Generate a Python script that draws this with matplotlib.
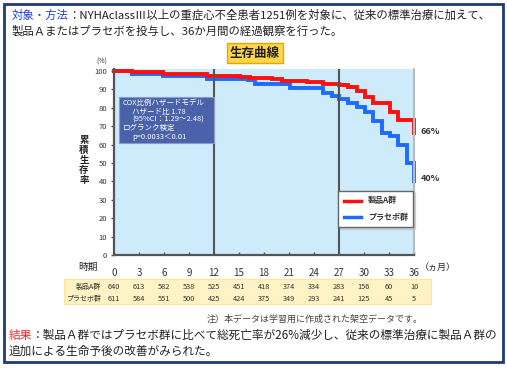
import matplotlib
matplotlib.use("Agg")
import matplotlib.pyplot as plt
import matplotlib.patches as mpatches
import matplotlib.transforms as mtrans
from matplotlib.lines import Line2D

plt.rcParams['font.family'] = ['Noto Sans CJK JP', 'DejaVu Sans']

# step curves (month, survival % after the step)
t_a = [0, 2.1, 5.9, 11.1, 15.1, 16.3, 18.9, 20.1, 23.1, 25.1, 27.0, 28.1, 29.1, 30.1, 31.1, 33.1, 34.1, 36]
s_a = [100, 99.2, 98.3, 97.3, 96.7, 96.2, 95.5, 94.6, 93.7, 93.0, 92.2, 91.3, 89.3, 86.0, 82.4, 77.9, 73.4, 66]
t_p = [0, 2.1, 5.9, 11.1, 16.1, 16.9, 21.1, 25.1, 26.1, 27.0, 28.1, 29.1, 30.1, 31.1, 32.1, 33.1, 34.1, 35.1, 36]
s_p = [100, 98.5, 97.2, 95.7, 94.9, 92.6, 90.9, 87.9, 86.6, 84.6, 82.4, 80.3, 77.5, 72.5, 66.5, 64.7, 59.8, 49.8, 40]

months = [0, 3, 6, 9, 12, 15, 18, 21, 24, 27, 30, 33, 36]
n_a = [640, 613, 582, 538, 525, 451, 418, 374, 334, 283, 156, 60, 10]
n_p = [611, 584, 551, 500, 425, 424, 375, 349, 293, 241, 125, 45, 5]
yticks = [0, 10, 20, 30, 40, 50, 60, 70, 80, 90, 100]

W, H = 507, 368
fig = plt.figure(figsize=(W / 100, H / 100), dpi=100)


def fx(x):
    return x / W


def fy(y):
    return 1 - y / H


# outer frame
fig.patches.append(mpatches.Rectangle((fx(4), fy(362)), fx(499), 358 / H, transform=fig.transFigure,
                                      fill=False, edgecolor='#1F3A7A', lw=2))

# header text
fig.text(fx(12), fy(15), '対象・方法', color='#1F3FE0', fontsize=8.2, va='center')
fig.text(fx(68), fy(15), '：NYHAclassⅢ以上の重症心不全患者1251例を対象に、従来の標準治療に加えて、',
         color='#222222', fontsize=8.2, va='center')
fig.text(fx(12), fy(31), '製品Ａまたはプラセボを投与し、36か月間の経過観察を行った。',
         color='#222222', fontsize=8.2, va='center')

# chart
ax = fig.add_axes([fx(114), fy(255), 300 / W, 186 / H])
ax.set_facecolor('#CDEBFB')
ax.step(t_p, s_p, where='post', color='#1F6BFF', lw=2.8, clip_on=False, solid_joinstyle='miter')
ax.step(t_a, s_a, where='post', color='#FF1010', lw=2.8, clip_on=False, solid_joinstyle='miter')
ax.axvline(12, color='#555555', lw=1.5)
ax.axvline(27, color='#555555', lw=1.5)
ax.set_xlim(0, 36)
ax.set_ylim(0, 101)
ax.set_xticks(months)
ax.set_xticklabels([str(m) for m in months], fontsize=7, color='#333333')
ax.set_yticks(yticks)
ax.set_yticklabels([str(v) for v in yticks], fontsize=5.5, color='#333333')
ax.tick_params(axis='x', direction='in', length=2, width=1, color='#555555', pad=9)
ax.tick_params(axis='y', direction='out', length=2, width=1, color='#555555', pad=3)
ax.spines['top'].set_visible(False)
ax.spines['left'].set_color('#555555')
ax.spines['left'].set_linewidth(1.6)
ax.spines['bottom'].set_color('#555555')
ax.spines['bottom'].set_linewidth(1.6)
ax.spines['right'].set_color('#BBBBBB')
ax.spines['right'].set_linewidth(1.5)

# end labels
ax.text(36.8, s_a[-1] + 1, '66%', fontsize=6.5, fontweight='bold', color='#333333', va='center')
ax.text(36.8, s_p[-1] + 1.5, '40%', fontsize=6.5, fontweight='bold', color='#333333', va='center')

# Cox box
ax.add_patch(mpatches.Rectangle((0.017, 0.602), 0.316, 0.247, transform=ax.transAxes,
                                facecolor='#4A62AA', edgecolor='#8A9AD0', lw=0.8, zorder=5))
cox_lines = [(123, 103, 'COX比例ハザードモデル'),
             (132, 112, 'ハザード比 1.78'),
             (132, 120, '(95%CI：1.29～2.48)'),
             (123, 128, 'ログランク検定'),
             (132, 137, 'p=0.0033＜0.01')]
for x, y, s in cox_lines:
    fig.text(fx(x), fy(y), s, color='white', fontsize=5.4, va='center', zorder=6)

# legend
handles = [Line2D([], [], color='#FF1010', lw=2.5), Line2D([], [], color='#1F6BFF', lw=2.5)]
leg = ax.legend(handles, ['製品A群', 'プラセボ群'], loc='center', bbox_to_anchor=(0.872, 0.247),
                fontsize=5.8, frameon=True, fancybox=False,
                shadow={'ox': 1.2, 'oy': -1.2, 'color': '#BBBBBB', 'alpha': 0.5}, edgecolor='#666666',
                handlelength=2.2, labelspacing=0.9, borderpad=0.7)
leg.get_frame().set_alpha(1)
for t in leg.get_texts():
    t.set_fontweight('bold')
    t.set_color('#333333')

# title badge
fig.text(fx(255), fy(53), '生存曲線', fontsize=9, fontweight='bold', color='#222222', ha='center', va='center',
         bbox=dict(boxstyle='square,pad=0.25', facecolor='#FFD54A', edgecolor='#E0A800', lw=1))

# axis texts
fig.text(fx(102), fy(62), '(%)', fontsize=5, color='#333333', ha='center', va='center')
fig.text(fx(84), fy(160), '\n'.join('累積生存率'), fontsize=6.8, fontweight='bold', color='#222222',
         ha='center', va='center', linespacing=1.0)
fig.text(fx(88), fy(267), '時期', fontsize=7, color='#222222', ha='center', va='center')
fig.text(fx(420), fy(267), '（ヵ月）', fontsize=6.5, color='#222222', ha='left', va='center')

# numbers at risk table
fig.patches.append(mpatches.Rectangle((fx(64), fy(304)), 367 / W, 25 / H, transform=fig.transFigure,
                                      facecolor='#FFF2C4', edgecolor='#FFE49A', lw=0.8))
tr = mtrans.blended_transform_factory(ax.transData, fig.transFigure)
fig.text(fx(101), fy(287), '製品A群', fontsize=5, color='#333333', ha='right', va='center')
fig.text(fx(101), fy(299), 'プラセボ群', fontsize=5, color='#333333', ha='right', va='center')
for m, a, p in zip(months, n_a, n_p):
    fig.text(m, fy(287), str(a), transform=tr, fontsize=5.3, color='#333333', ha='center', va='center')
    fig.text(m, fy(299), str(p), transform=tr, fontsize=5.3, color='#333333', ha='center', va='center')

fig.text(fx(207), fy(319), '注）本データは学習用に作成された架空データです。', fontsize=6.5, color='#444444', va='center')

# result
fig.text(fx(9), fy(335), '結果', color='#FF2020', fontsize=8.4, va='center')
fig.text(fx(31), fy(335), '：製品Ａ群ではプラセボ群に比べて総死亡率が26%減少し、従来の標準治療に製品Ａ群の',
         color='#222222', fontsize=8.4, va='center')
fig.text(fx(9), fy(351), '追加による生命予後の改善がみられた。', color='#222222', fontsize=8.4, va='center')

fig.savefig('out.png', dpi=100)
